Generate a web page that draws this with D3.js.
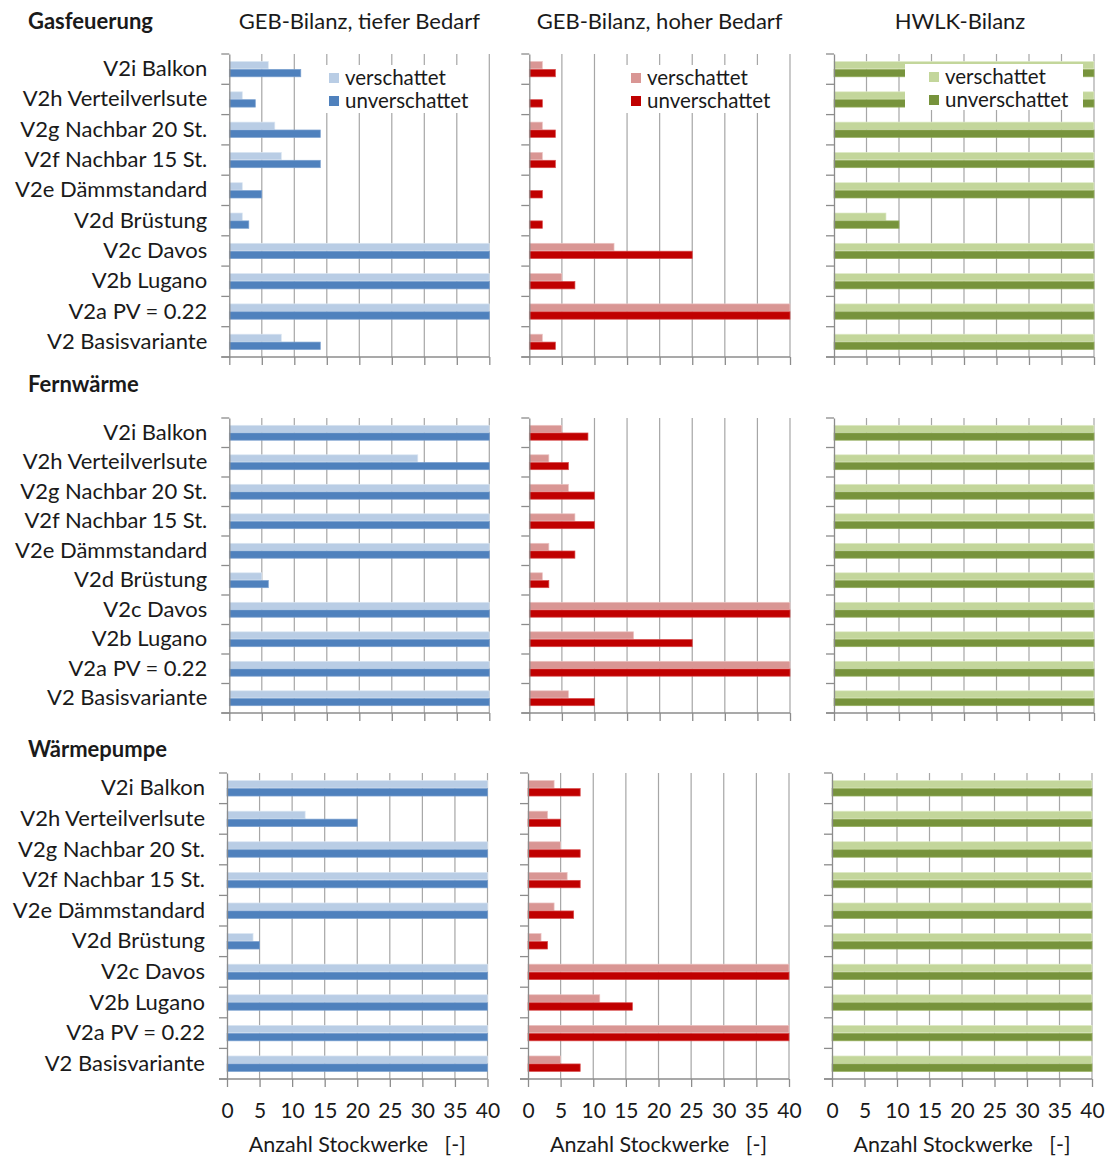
<!DOCTYPE html>
<html>
<head>
<meta charset="utf-8">
<script src="https://cdn.jsdelivr.net/npm/d3@7"></script>
<style>
  body { margin: 0; background: #fff; }
  svg { display: block; }
  text { font-family: Lato, "Open Sans", "Liberation Sans", sans-serif; fill: #1a1a1a; }
</style>
</head>
<body>
<svg id="chart" width="1114" height="1160"></svg>
<script>
// Variants (top to bottom in each panel)
const categories = [
  "V2i Balkon", "V2h Verteilverlsute", "V2g Nachbar 20 St.", "V2f Nachbar 15 St.",
  "V2e Dämmstandard", "V2d Brüstung", "V2c Davos", "V2b Lugano",
  "V2a PV = 0.22", "V2 Basisvariante"
];
const systems = ["Gasfeuerung", "Fernwärme", "Wärmepumpe"];
const balances = ["GEB-Bilanz, tiefer Bedarf", "GEB-Bilanz, hoher Bedarf", "HWLK-Bilanz"];
const seriesNames = ["verschattet", "unverschattet"];
const xTicks = [0, 5, 10, 15, 20, 25, 30, 35, 40];
const axisTitle = "Anzahl Stockwerke   [-]";

// Number of storeys (Anzahl Stockwerke) — Gasfeuerung
const gasTiefVerschattet     = [6, 2, 7, 8, 2, 2, 40, 40, 40, 8];
const gasTiefUnverschattet   = [11, 4, 14, 14, 5, 3, 40, 40, 40, 14];
const gasHochVerschattet     = [2, 0, 2, 2, 0, 0, 13, 5, 40, 2];
const gasHochUnverschattet   = [4, 2, 4, 4, 2, 2, 25, 7, 40, 4];
const gasHwlkVerschattet     = [40, 40, 40, 40, 40, 8, 40, 40, 40, 40];
const gasHwlkUnverschattet   = [40, 40, 40, 40, 40, 10, 40, 40, 40, 40];

// Fernwärme
const fwTiefVerschattet      = [40, 29, 40, 40, 40, 5, 40, 40, 40, 40];
const fwTiefUnverschattet    = [40, 40, 40, 40, 40, 6, 40, 40, 40, 40];
const fwHochVerschattet      = [5, 3, 6, 7, 3, 2, 40, 16, 40, 6];
const fwHochUnverschattet    = [9, 6, 10, 10, 7, 3, 40, 25, 40, 10];
const fwHwlkVerschattet      = [40, 40, 40, 40, 40, 40, 40, 40, 40, 40];
const fwHwlkUnverschattet    = [40, 40, 40, 40, 40, 40, 40, 40, 40, 40];

// Wärmepumpe
const wpTiefVerschattet      = [40, 12, 40, 40, 40, 4, 40, 40, 40, 40];
const wpTiefUnverschattet    = [40, 20, 40, 40, 40, 5, 40, 40, 40, 40];
const wpHochVerschattet      = [4, 3, 5, 6, 4, 2, 40, 11, 40, 5];
const wpHochUnverschattet    = [8, 5, 8, 8, 7, 3, 40, 16, 40, 8];
const wpHwlkVerschattet      = [40, 40, 40, 40, 40, 40, 40, 40, 40, 40];
const wpHwlkUnverschattet    = [40, 40, 40, 40, 40, 40, 40, 40, 40, 40];

const panelData = [
  [[gasTiefVerschattet, gasTiefUnverschattet], [gasHochVerschattet, gasHochUnverschattet], [gasHwlkVerschattet, gasHwlkUnverschattet]],
  [[fwTiefVerschattet, fwTiefUnverschattet],   [fwHochVerschattet, fwHochUnverschattet],   [fwHwlkVerschattet, fwHwlkUnverschattet]],
  [[wpTiefVerschattet, wpTiefUnverschattet],   [wpHochVerschattet, wpHochUnverschattet],   [wpHwlkVerschattet, wpHwlkUnverschattet]]
];

// Layout
const colors = [["#b9cde5", "#4f81bd"], ["#d99694", "#c00000"], ["#c3d69b", "#77933c"]];
const strokes = [["#dbe6f2", "#7aa0cf"], ["#ebc3c2", "#d84a4a"], ["#e0ebc9", "#97b060"]];
const rowY = [[54, 357], [418, 713], [773, 1079]];
const rowTitleY = [29, 392, 757];
const colX = [
  [[229.3, 489.3], [529.3, 790], [834, 1094]],
  [[229.3, 489.3], [529.3, 790], [834, 1094]],
  [[227, 487.5], [528, 789], [832, 1092]]
];
const legendBox = [[322, 65, 152, 48], [624, 65, 155, 48], [905, 64, 178, 46]];
const gridColor = "#a6a6a6";
const axisColor = "#8c8c8c";

const svg = d3.select("#chart");

// Column headings
balances.forEach((b, j) => {
  const [x0, x1] = colX[0][j];
  svg.append("text")
    .attr("x", (x0 + x1) / 2 - (j === 2 ? 4 : 0))
    .attr("y", 29)
    .attr("text-anchor", "middle")
    .style("font-size", "22px")
    .text(b);
});

systems.forEach((sys, i) => {
  // Section heading
  svg.append("text")
    .attr("x", 28)
    .attr("y", rowTitleY[i])
    .style("font-size", "22px")
    .style("font-weight", "bold")
    .text(sys);

  const [top, bottom] = rowY[i];
  const y = d3.scaleBand().domain(categories).range([top, bottom]);
  const sub = d3.scaleBand().domain(seriesNames).range([0, y.bandwidth()])
    .paddingOuter(0.95).paddingInner(0.06);

  balances.forEach((b, j) => {
    const [x0, x1] = colX[i][j];
    const x = d3.scaleLinear().domain([0, 40]).range([x0, x1]);
    const g = svg.append("g");

    // vertical gridlines
    g.selectAll("line.grid")
      .data(xTicks.slice(1))
      .join("line")
      .attr("class", "grid")
      .attr("x1", d => x(d)).attr("x2", d => x(d))
      .attr("y1", top).attr("y2", bottom)
      .attr("stroke", gridColor).attr("stroke-width", 1.2);

    // bars
    seriesNames.forEach((s, k) => {
      const vals = panelData[i][j][k];
      g.selectAll("rect.s" + k)
        .data(categories.map((c, n) => ({ c, v: vals[n] })).filter(d => d.v > 0))
        .join("rect")
        .attr("class", "s" + k)
        .attr("x", x(0))
        .attr("y", d => y(d.c) + sub(s))
        .attr("width", d => x(d.v) - x(0))
        .attr("height", sub.bandwidth())
        .attr("fill", colors[j][k])
        .attr("stroke", strokes[j][k])
        .attr("stroke-width", 0.7);
    });

    // category axis
    const yAxis = g.append("g")
      .attr("transform", `translate(${x0},0)`)
      .call(d3.axisLeft(y).tickSize(0).tickPadding(22));
    yAxis.select(".domain").attr("stroke", axisColor).attr("stroke-width", 1.3);
    if (j === 0) {
      yAxis.selectAll("text").style("font-size", "22px").attr("fill", "#1a1a1a");
    } else {
      yAxis.selectAll(".tick text").remove();
    }
    // category boundary ticks
    g.selectAll("line.ytick")
      .data(categories.map(c => y(c)).concat([bottom]))
      .join("line")
      .attr("class", "ytick")
      .attr("x1", x0 - 8).attr("x2", x0)
      .attr("y1", d => d).attr("y2", d => d)
      .attr("stroke", axisColor).attr("stroke-width", 1.3);

    // value axis
    const xAxis = g.append("g")
      .attr("transform", `translate(0,${bottom})`)
      .call(d3.axisBottom(x).tickValues(xTicks).tickSize(8).tickPadding(16).tickFormat(d3.format("d")));
    xAxis.selectAll("line").attr("stroke", axisColor).attr("stroke-width", 1.3);
    xAxis.select(".domain").attr("stroke", axisColor).attr("stroke-width", 1.3)
      .attr("d", `M${x0 - 8},0H${x1}`);
    if (i === 2) {
      xAxis.selectAll("text").style("font-size", "21px").attr("fill", "#1a1a1a");
      svg.append("text")
        .attr("x", (x0 + x1) / 2)
        .attr("y", 1152)
        .attr("text-anchor", "middle")
        .style("font-size", "21.5px")
        .style("white-space", "pre")
        .text(axisTitle);
    } else {
      xAxis.selectAll("text").remove();
    }

    // legend (first row only)
    if (i === 0) {
      const [lx, ly, lw, lh] = legendBox[j];
      const lg = svg.append("g");
      lg.append("rect").attr("x", lx).attr("y", ly).attr("width", lw).attr("height", lh).attr("fill", "#fff");
      seriesNames.forEach((s, k) => {
        const row = lg.append("g").attr("transform", `translate(${lx + (j === 2 ? 24 : 7)},${ly + 13 + k * 23})`);
        row.append("rect").attr("x", 0).attr("y", -5).attr("width", 10).attr("height", 10)
          .attr("fill", colors[j][k]);
        row.append("text").attr("x", 16).attr("y", 6.5).style("font-size", "20.5px").text(s);
      });
    }
  });
});
</script>
</body>
</html>
